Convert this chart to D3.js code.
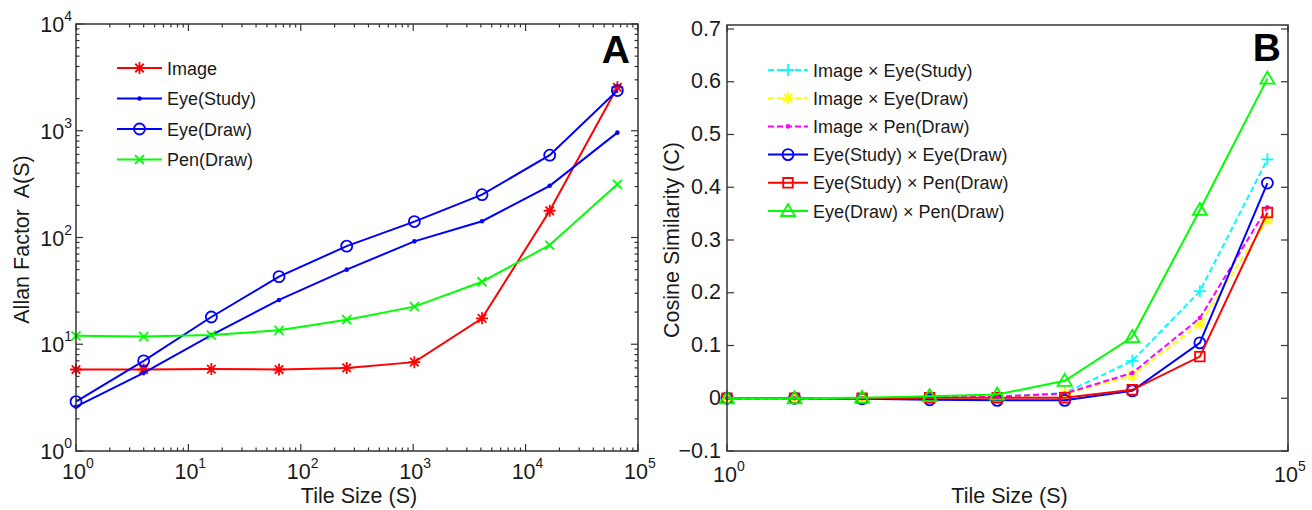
<!DOCTYPE html>
<html>
<head>
<meta charset="utf-8">
<script src="https://cdn.jsdelivr.net/npm/d3@7"></script>
<style>
  body { margin: 0; background: #fff; }
  svg { display: block; font-family: "Liberation Sans", Arial, Helvetica, sans-serif; }
</style>
</head>
<body>
<div id="chart"></div>
<script>
// tile sizes shared by both panels
const tileSizes = [1, 4, 16, 64, 256, 1024, 4096, 16384, 65536]

// panel A: Allan factor
const allanImage = [5.8, 5.8, 5.85, 5.8, 6.0, 6.8, 17.5, 178, 2550]
const allanEyeStudy = [2.6, 5.4, 12.2, 26, 50, 92, 142, 305, 960]
const allanEyeDraw = [2.9, 7.0, 18, 43, 83, 141, 252, 590, 2380]
const allanPenDraw = [12, 11.8, 12.2, 13.5, 17, 22.5, 38.5, 85, 315]

// panel B: cosine similarity
const cosImgEyeStudy = [0, 0, 0, 0.001, 0.003, 0.010, 0.071, 0.203, 0.453]
const cosImgEyeDraw = [0, 0, 0, 0.001, 0.002, 0.008, 0.043, 0.141, 0.338]
const cosImgPenDraw = [0, 0, 0, 0.002, 0.003, 0.009, 0.048, 0.152, 0.362]
const cosEyeStudyEyeDraw = [0, 0, -0.001, -0.003, -0.004, -0.004, 0.014, 0.105, 0.408]
const cosEyeStudyPenDraw = [0, 0, 0, 0.001, 0.001, 0.001, 0.016, 0.079, 0.352]
const cosEyeDrawPenDraw = [0, 0, 0.001, 0.004, 0.007, 0.033, 0.116, 0.357, 0.606]

const seriesA = [
  { name: 'Image', values: allanImage, color: '#ff0000', marker: 'star', dash: null },
  { name: 'Eye(Study)', values: allanEyeStudy, color: '#0000ff', marker: 'point', dash: null },
  { name: 'Eye(Draw)', values: allanEyeDraw, color: '#0000ff', marker: 'circle', dash: null },
  { name: 'Pen(Draw)', values: allanPenDraw, color: '#00ff00', marker: 'cross', dash: null }
]
const seriesB = [
  { name: 'Image \u00d7 Eye(Study)', values: cosImgEyeStudy, color: '#00ffff', marker: 'plus', dash: '6,3' },
  { name: 'Image \u00d7 Eye(Draw)', values: cosImgEyeDraw, color: '#ffff00', marker: 'star', dash: '6,3' },
  { name: 'Image \u00d7 Pen(Draw)', values: cosImgPenDraw, color: '#ff00ff', marker: 'point', dash: '6,3' },
  { name: 'Eye(Study) \u00d7 Eye(Draw)', values: cosEyeStudyEyeDraw, color: '#0000ff', marker: 'circle', dash: null },
  { name: 'Eye(Study) \u00d7 Pen(Draw)', values: cosEyeStudyPenDraw, color: '#ff0000', marker: 'square', dash: null },
  { name: 'Eye(Draw) \u00d7 Pen(Draw)', values: cosEyeDrawPenDraw, color: '#00ff00', marker: 'triangle', dash: null }
]

const decadesX = [0, 1, 2, 3, 4, 5]
const decadesA = [0, 1, 2, 3, 4]
const ticksB = [-0.1, 0, 0.1, 0.2, 0.3, 0.4, 0.5, 0.6, 0.7]

const W = 1312
const H = 510
const frameColor = '#333'
const textColor = '#1a1a1a'
const labelSize = 21.5
const supSize = 14

const svg = d3.select('#chart')
  .append('svg')
  .attr('width', W)
  .attr('height', H)

// marker glyph paths, centred on 0,0
function markerPath (type) {
  var p = d3.path()
  var r
  switch (type) {
    case 'star':
      r = 6
      for (var k = 0; k < 4; k++) {
        var a = k * Math.PI / 4
        p.moveTo(-r * Math.cos(a), -r * Math.sin(a))
        p.lineTo(r * Math.cos(a), r * Math.sin(a))
      }
      break
    case 'cross':
      r = 4.5
      p.moveTo(-r, -r); p.lineTo(r, r)
      p.moveTo(-r, r); p.lineTo(r, -r)
      break
    case 'plus':
      r = 6
      p.moveTo(-r, 0); p.lineTo(r, 0)
      p.moveTo(0, -r); p.lineTo(0, r)
      break
    case 'circle':
      p.arc(0, 0, 5.5, 0, 2 * Math.PI)
      break
    case 'square':
      p.rect(-4.8, -4.8, 9.6, 9.6)
      break
    case 'triangle':
      p.moveTo(0, -7); p.lineTo(7, 5); p.lineTo(-7, 5); p.closePath()
      break
    case 'point':
      p.arc(0, 0, 1.4, 0, 2 * Math.PI)
      break
  }
  return p.toString()
}

function drawMarker (g, type, color) {
  g.append('path')
    .attr('d', markerPath(type))
    .attr('fill', type === 'point' ? color : 'none')
    .attr('stroke', color)
    .attr('stroke-width', 1.8)
}

// "10" with a superscript exponent, drawn as two texts
function powerLabel (g, x, y, exp, anchor) {
  var base = g.append('text')
    .attr('y', y)
    .attr('font-size', labelSize)
    .attr('fill', textColor)
    .text('10')
  var sup = g.append('text')
    .attr('y', y - 11)
    .attr('font-size', supSize)
    .attr('fill', textColor)
    .text(exp)
  var bw = base.node().getComputedTextLength()
  var sw = sup.node().getComputedTextLength()
  if (anchor === 'end') {
    base.attr('x', x - sw).attr('text-anchor', 'end')
    sup.attr('x', x).attr('text-anchor', 'end')
  } else {
    base.attr('x', x).attr('text-anchor', 'middle')
    sup.attr('x', x + bw / 2).attr('text-anchor', 'start')
  }
}

function logMinor (lo, hi) {
  var out = []
  for (var d = lo; d < hi; d++) {
    for (var m = 2; m <= 9; m++) out.push(m * Math.pow(10, d))
  }
  return out
}

// inward ticks on all four sides of a frame
function frameTicks (g, scale, orient, values, len, box) {
  values.forEach(function (v) {
    var p = scale(v)
    if (orient === 'x') {
      g.append('line').attr('x1', p).attr('x2', p).attr('y1', box.bottom).attr('y2', box.bottom - len)
      g.append('line').attr('x1', p).attr('x2', p).attr('y1', box.top).attr('y2', box.top + len)
    } else {
      g.append('line').attr('y1', p).attr('y2', p).attr('x1', box.left).attr('x2', box.left + len)
      g.append('line').attr('y1', p).attr('y2', p).attr('x1', box.right).attr('x2', box.right - len)
    }
  })
  g.selectAll('line').attr('stroke', frameColor).attr('stroke-width', 1.2)
}

function drawSeries (g, series, x, y) {
  var line = d3.line()
    .x(function (d) { return x(d[0]) })
    .y(function (d) { return y(d[1]) })
  series.forEach(function (s) {
    var pts = d3.zip(tileSizes, s.values)
    var sg = g.append('g')
    sg.append('path')
      .attr('d', line(pts))
      .attr('fill', 'none')
      .attr('stroke', s.color)
      .attr('stroke-width', 2)
      .attr('stroke-dasharray', s.dash)
    pts.forEach(function (d) {
      drawMarker(sg.append('g').attr('transform', 'translate(' + x(d[0]) + ',' + y(d[1]) + ')'), s.marker, s.color)
    })
  })
}

function drawLegend (g, series, x0, y0, step, lineLen, fontSize) {
  series.forEach(function (s, i) {
    var yy = y0 + i * step
    g.append('line')
      .attr('x1', x0).attr('x2', x0 + lineLen)
      .attr('y1', yy).attr('y2', yy)
      .attr('stroke', s.color)
      .attr('stroke-width', 2)
      .attr('stroke-dasharray', s.dash)
    drawMarker(g.append('g').attr('transform', 'translate(' + (x0 + lineLen / 2) + ',' + yy + ')'), s.marker, s.color)
    g.append('text')
      .attr('x', x0 + lineLen + 5)
      .attr('y', yy + 6.5)
      .attr('font-size', fontSize)
      .attr('fill', textColor)
      .text(s.name)
  })
}

function drawFrame (g, box) {
  g.append('rect')
    .attr('x', box.left).attr('y', box.top)
    .attr('width', box.right - box.left)
    .attr('height', box.bottom - box.top)
    .attr('fill', 'none')
    .attr('stroke', frameColor)
    .attr('stroke-width', 1.5)
}

// ---------- panel A ----------
var boxA = { left: 76, right: 638, top: 24, bottom: 451 }
var xA = d3.scaleLog().domain([1, 1e5]).range([boxA.left, boxA.right])
var yA = d3.scaleLog().domain([1, 1e4]).range([boxA.bottom, boxA.top])
var gA = svg.append('g')

frameTicks(gA.append('g'), xA, 'x', decadesX.map(function (d) { return Math.pow(10, d) }), 7, boxA)
frameTicks(gA.append('g'), xA, 'x', logMinor(0, 5), 3.5, boxA)
frameTicks(gA.append('g'), yA, 'y', decadesA.map(function (d) { return Math.pow(10, d) }), 7, boxA)
frameTicks(gA.append('g'), yA, 'y', logMinor(0, 4), 3.5, boxA)

drawSeries(gA.append('g'), seriesA, xA, yA)
drawFrame(gA, boxA)

decadesX.forEach(function (d) {
  powerLabel(gA, xA(Math.pow(10, d)) - 2, 478.5, d, 'middle')
})
decadesA.forEach(function (d) {
  powerLabel(gA, boxA.left - 4, yA(Math.pow(10, d)) + 8, d, 'end')
})

gA.append('text')
  .attr('x', (boxA.left + boxA.right) / 2 + 2)
  .attr('y', 503)
  .attr('text-anchor', 'middle')
  .attr('font-size', labelSize)
  .attr('fill', textColor)
  .text('Tile Size (S)')
gA.append('text')
  .attr('transform', 'translate(29,' + ((boxA.top + boxA.bottom) / 2 + 2) + ') rotate(-90)')
  .attr('text-anchor', 'middle')
  .attr('font-size', labelSize)
  .attr('fill', textColor)
  .attr('xml:space', 'preserve')
  .text('Allan Factor  A(S)')
gA.append('text')
  .attr('x', boxA.right - 8)
  .attr('y', 63)
  .attr('text-anchor', 'end')
  .attr('font-size', 39)
  .attr('font-weight', 'bold')
  .attr('fill', '#000')
  .text('A')

drawLegend(gA.append('g'), seriesA, 117, 68, 30.5, 45, 18)

// ---------- panel B ----------
var boxB = { left: 727, right: 1288, top: 25, bottom: 451 }
var xB = d3.scaleLog().domain([1, 1e5]).range([boxB.left, boxB.right])
var yB = d3.scaleLinear().domain([-0.1, 0.7]).range([boxB.bottom, 29])
var gB = svg.append('g')

frameTicks(gB.append('g'), yB, 'y', ticksB, 7, boxB)
frameTicks(gB.append('g'), xB, 'x', [1, 1e5], 7, boxB)

drawSeries(gB.append('g'), seriesB, xB, yB)
drawFrame(gB, boxB)

ticksB.forEach(function (v) {
  gB.append('text')
    .attr('x', boxB.left - 6)
    .attr('y', yB(v) + 6.5)
    .attr('text-anchor', 'end')
    .attr('font-size', labelSize)
    .attr('fill', textColor)
    .text(v === 0 ? '0' : d3.format('.1f')(v))
})
powerLabel(gB, boxB.left - 2, 482, 0, 'middle')
powerLabel(gB, boxB.right - 2, 482, 5, 'middle')

gB.append('text')
  .attr('x', (boxB.left + boxB.right) / 2 + 2)
  .attr('y', 503)
  .attr('text-anchor', 'middle')
  .attr('font-size', labelSize)
  .attr('fill', textColor)
  .text('Tile Size (S)')
gB.append('text')
  .attr('transform', 'translate(679,' + ((boxB.top + boxB.bottom) / 2 + 2) + ') rotate(-90)')
  .attr('text-anchor', 'middle')
  .attr('font-size', labelSize)
  .attr('fill', textColor)
  .text('Cosine Similarity (C)')
gB.append('text')
  .attr('x', boxB.right - 7)
  .attr('y', 61)
  .attr('text-anchor', 'end')
  .attr('font-size', 39)
  .attr('font-weight', 'bold')
  .attr('fill', '#000')
  .text('B')

drawLegend(gB.append('g'), seriesB, 768, 70, 28.2, 40, 18)
</script>
</body>
</html>
